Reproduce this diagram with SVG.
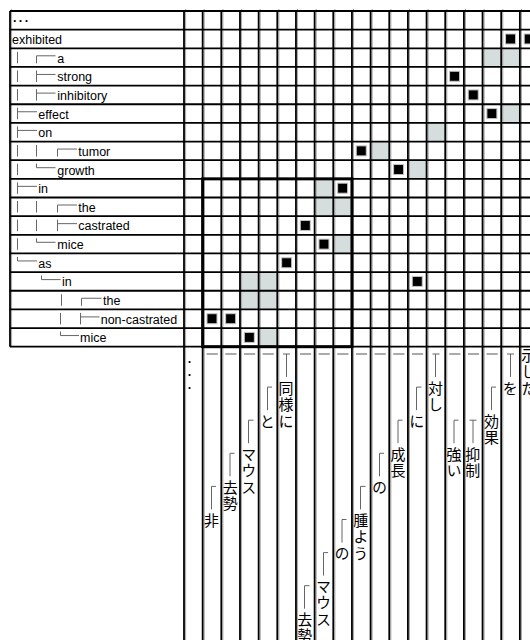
<svg xmlns="http://www.w3.org/2000/svg" width="530" height="640" viewBox="0 0 530 640">
<style>
.bg{fill:#fff}
.hl{fill:#d5dddd}
.g{stroke:#000;stroke-width:1.8;fill:none}
.g2{stroke:#a8a8a8;stroke-width:1;fill:none}
.box{stroke:#000;stroke-width:3;fill:none}
.al{fill:#000;stroke:#c4c4c4;stroke-width:1}
.en{font-family:"Liberation Sans",Arial,sans-serif;font-size:12.5px;fill:#000}
.dots{font-family:"Liberation Sans",Arial,sans-serif;font-size:12.5px;font-weight:bold;fill:#000}
.ja{font-family:"Noto Sans CJK JP","Noto Sans CJK SC",sans-serif;font-size:15px;fill:#000;writing-mode:vertical-rl;letter-spacing:1.5px}
.tr{stroke:#666;stroke-width:1;fill:none}
.dash{stroke:#aaa;stroke-width:2;fill:none}
</style>
<rect class="bg" x="0" y="0" width="530" height="640"/>
<g id="matrix">
<g id="soft-cells">
<rect class="hl" x="482.56" y="48.3" width="18.66" height="18.65"/>
<rect class="hl" x="501.22" y="48.3" width="18.66" height="18.65"/>
<rect class="hl" x="501.22" y="104.25" width="18.66" height="18.65"/>
<rect class="hl" x="426.58" y="122.9" width="18.66" height="18.65"/>
<rect class="hl" x="370.6" y="141.55" width="18.66" height="18.65"/>
<rect class="hl" x="407.92" y="160.2" width="18.66" height="18.65"/>
<rect class="hl" x="314.62" y="178.85" width="18.66" height="18.65"/>
<rect class="hl" x="314.62" y="197.5" width="18.66" height="18.65"/>
<rect class="hl" x="333.28" y="197.5" width="18.66" height="18.65"/>
<rect class="hl" x="333.28" y="234.8" width="18.66" height="18.65"/>
<rect class="hl" x="239.98" y="272.1" width="18.66" height="18.65"/>
<rect class="hl" x="258.64" y="272.1" width="18.66" height="18.65"/>
<rect class="hl" x="239.98" y="290.75" width="18.66" height="18.65"/>
<rect class="hl" x="258.64" y="290.75" width="18.66" height="18.65"/>
<rect class="hl" x="258.64" y="328.05" width="18.66" height="18.65"/>
</g>
<path class="g2" d="M11.6,9V346.7M185.6,9V640M204.26,9V640M222.92,9V640M241.58,9V640M260.24,9V640M278.9,9V640M297.56,9V640M316.22,9V640M334.88,9V640M353.54,9V640M372.2,9V640M390.86,9V640M409.52,9V640M428.18,9V640M446.84,9V640M465.5,9V640M484.16,9V640M502.82,9V640M521.48,9V640"/>
<path class="g" d="M10,11H530M10,29.65H530M10,48.3H530M10,66.95H530M10,85.6H530M10,104.25H530M10,122.9H530M10,141.55H530M10,160.2H530M10,178.85H530M10,197.5H530M10,216.15H530M10,234.8H530M10,253.45H530M10,272.1H530M10,290.75H530M10,309.4H530M10,328.05H530M10,346.7H530"/>
<path class="g" d="M10,11V346.7M184,11V640M202.66,11V640M221.32,11V640M239.98,11V640M258.64,11V640M277.3,11V640M295.96,11V640M314.62,11V640M333.28,11V640M351.94,11V640M370.6,11V640M389.26,11V640M407.92,11V640M426.58,11V640M445.24,11V640M463.9,11V640M482.56,11V640M501.22,11V640M519.88,11V640"/>
<rect class="box" x="202.66" y="178.85" width="149.28" height="167.85"/>
<g id="alignments">
<rect class="al" x="505.55" y="33.98" width="10" height="10"/>
<rect class="al" x="524.21" y="33.98" width="10" height="10"/>
<rect class="al" x="449.57" y="71.28" width="10" height="10"/>
<rect class="al" x="468.23" y="89.93" width="10" height="10"/>
<rect class="al" x="486.89" y="108.58" width="10" height="10"/>
<rect class="al" x="356.27" y="145.88" width="10" height="10"/>
<rect class="al" x="393.59" y="164.53" width="10" height="10"/>
<rect class="al" x="337.61" y="183.18" width="10" height="10"/>
<rect class="al" x="300.29" y="220.48" width="10" height="10"/>
<rect class="al" x="318.95" y="239.13" width="10" height="10"/>
<rect class="al" x="281.63" y="257.78" width="10" height="10"/>
<rect class="al" x="412.25" y="276.43" width="10" height="10"/>
<rect class="al" x="206.99" y="313.73" width="10" height="10"/>
<rect class="al" x="225.65" y="313.73" width="10" height="10"/>
<rect class="al" x="244.31" y="332.38" width="10" height="10"/>
</g>
</g>
<g id="connectors">
<path class="tr" d="M17.5,51.8V63.3M36.5,63.3V55.8H55.5
M17.5,70.45V81.95M36.5,70.45V81.95M36.5,74.45H55.5
M17.5,89.1V100.6M36.5,89.1V100.6M36.5,93.1H55.5
M17.5,107.75V119.25M17.5,111.75H37
M17.5,126.4V137.9M17.5,130.4H37
M17.5,145.05V156.55M36.5,145.05V156.55M57.5,156.55V149.05H77
M17.5,163.7V175.2M36.5,163.7V167.7H55.5
M17.5,182.35V193.85M17.5,186.35H37
M17.5,201V212.5M36.5,201V212.5M57.5,212.5V205H77
M17.5,219.65V231.15M36.5,219.65V231.15M57.5,219.65V231.15M57.5,223.65H77
M17.5,238.3V249.8M36.5,238.3V242.3H55.5
M17.5,256.95V260.95H37
M41.5,275.6V279.6H60.5
M61.5,294.25V305.75M81.5,305.75V298.25H101.5
M60.5,312.9V324.4M80.5,312.9V324.4M80.5,316.9H99.5
M60.5,331.55V335.55H79"/>
<path class="dash" d="M206.66,354H217.82M225.32,354H236.48M243.98,354H255.14M262.64,354H273.8M299.96,354H311.12M318.62,354H329.78M337.28,354H348.44M355.94,354H367.1M374.6,354H385.76M393.26,354H404.42M411.92,354H423.08M449.24,354H460.4M467.9,354H479.06M486.56,354H497.72"/>
<path class="tr" d="M216,486.4H211.5V509.4
M234.5,453.3H230V476.3
M253.5,420.2H248.5V443.2
M272,387.1H267.5V410.1
M283,354H290M286.5,354V377
M309.5,585.7H304.5V608.7
M328,552.6H323.5V575.6
M346.5,519.5H342V542.5
M365.5,486.4H360.5V509.4
M384,453.3H379.5V476.3
M402.5,420.2H398V443.2
M421.5,387.1H416.5V410.1
M432.5,354H439.5M435.5,354V377
M458.5,420.2H454V443.2
M469.5,420.2H476.5M473,420.2V443.2
M496,387.1H491.5V410.1
M507,354H514M510.5,354V377"/>
</g>
<g id="en-0"><text class="dots" x="13" y="21.5" letter-spacing="2.4">...</text></g>
<g id="en-1"><text class="en" x="12" y="43.95">exhibited</text></g>
<g id="en-2"><text class="en" x="57.3" y="62.6">a</text></g>
<g id="en-3"><text class="en" x="57.3" y="81.25">strong</text></g>
<g id="en-4"><text class="en" x="57.3" y="99.9">inhibitory</text></g>
<g id="en-5"><text class="en" x="38.3" y="118.55">effect</text></g>
<g id="en-6"><text class="en" x="38.3" y="137.2">on</text></g>
<g id="en-7"><text class="en" x="78.3" y="155.85">tumor</text></g>
<g id="en-8"><text class="en" x="57.3" y="174.5">growth</text></g>
<g id="en-9"><text class="en" x="38.3" y="193.15">in</text></g>
<g id="en-10"><text class="en" x="78.3" y="211.8">the</text></g>
<g id="en-11"><text class="en" x="78.3" y="230.45">castrated</text></g>
<g id="en-12"><text class="en" x="57.3" y="249.1">mice</text></g>
<g id="en-13"><text class="en" x="38.3" y="267.75">as</text></g>
<g id="en-14"><text class="en" x="62" y="286.4">in</text></g>
<g id="en-15"><text class="en" x="103" y="305.05">the</text></g>
<g id="en-16"><text class="en" x="100.7" y="323.7">non-castrated</text></g>
<g id="en-17"><text class="en" x="80" y="342.35">mice</text></g>
<g id="ja-0"><text class="dots" text-anchor="middle"><tspan x="189.5" y="363">.</tspan><tspan x="189.5" y="375.6">.</tspan><tspan x="189.5" y="388.6">.</tspan></text></g>
<g id="ja-1"><text class="ja" x="211.5" y="512.5">非</text></g>
<g id="ja-2"><text class="ja" x="230.2" y="479.5">去勢</text></g>
<g id="ja-3"><text class="ja" x="248.8" y="446.5">マウス</text></g>
<g id="ja-4"><text class="ja" x="267.5" y="413.5">と</text></g>
<g id="ja-5"><text class="ja" x="286.1" y="380.5">同様に</text></g>
<g id="ja-6"><text class="ja" x="304.8" y="611.5">去勢</text></g>
<g id="ja-7"><text class="ja" x="323.5" y="578.5">マウス</text></g>
<g id="ja-8"><text class="ja" x="342.1" y="545.5">の</text></g>
<g id="ja-9"><text class="ja" x="360.8" y="512.5">腫よう</text></g>
<g id="ja-10"><text class="ja" x="379.4" y="479.5">の</text></g>
<g id="ja-11"><text class="ja" x="398.1" y="446.5">成長</text></g>
<g id="ja-12"><text class="ja" x="416.8" y="413.5">に</text></g>
<g id="ja-13"><text class="ja" x="435.4" y="380.5">対し</text></g>
<g id="ja-14"><text class="ja" x="454.1" y="446.5">強い</text></g>
<g id="ja-15"><text class="ja" x="472.7" y="446.5">抑制</text></g>
<g id="ja-16"><text class="ja" x="491.4" y="413.5">効果</text></g>
<g id="ja-17"><text class="ja" x="510" y="380.5">を</text></g>
<g id="ja-18"><text class="ja" x="528.7" y="347.5">示した</text></g>
</svg>
